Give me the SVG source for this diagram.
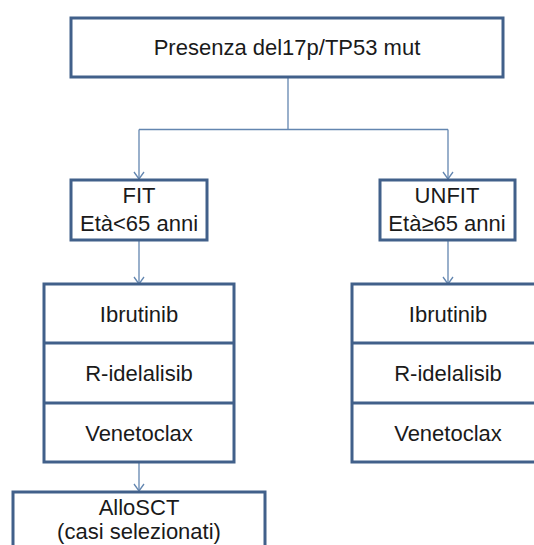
<svg xmlns="http://www.w3.org/2000/svg" width="534" height="545" viewBox="0 0 534 545">
<style>
.box{fill:#fff;stroke:#41608a;stroke-width:3}
.sep{stroke:#41608a;stroke-width:3}
.con{fill:none;stroke:#6386b0;stroke-width:1.3}
text{font-family:"Liberation Sans",Arial,sans-serif;font-size:22px;fill:#1a1a1a;text-anchor:middle}
</style>
<defs>
<marker id="arr" viewBox="0 0 12 12" refX="6" refY="11" markerWidth="12" markerHeight="12" markerUnits="userSpaceOnUse" orient="0">
<polyline points="1,4 6,11 11,4" fill="none" stroke="#6386b0" stroke-width="1.3"/>
</marker>
</defs>
<rect width="534" height="545" fill="#fff"/>
<g id="connectors">
<line class="con" x1="288" y1="77" x2="288" y2="129.5"/>
<line class="con" x1="139" y1="129.5" x2="448" y2="129.5"/>
<line class="con" x1="139" y1="129.5" x2="139" y2="179" marker-end="url(#arr)"/>
<line class="con" x1="448" y1="129.5" x2="448" y2="179" marker-end="url(#arr)"/>
<line class="con" x1="139" y1="241" x2="139" y2="284" marker-end="url(#arr)"/>
<line class="con" x1="448" y1="241" x2="448" y2="284" marker-end="url(#arr)"/>
<line class="con" x1="139" y1="463" x2="139" y2="491" marker-end="url(#arr)"/>
</g>
<g id="top">
<rect class="box" x="71" y="18" width="432" height="59"/>
<text x="287" y="55">Presenza del17p/TP53 mut</text>
</g>
<g id="fit">
<rect class="box" x="71" y="180" width="136" height="60"/>
<text x="139" y="203">FIT</text>
<text x="139" y="231">Età&lt;65 anni</text>
</g>
<g id="unfit">
<rect class="box" x="380" y="180" width="135" height="60"/>
<text x="447" y="203">UNFIT</text>
<text x="447" y="231">Età≥65 anni</text>
</g>
<g id="fit-therapies">
<rect class="box" x="44" y="284" width="190" height="178"/>
<line class="sep" x1="44" y1="343" x2="234" y2="343"/>
<line class="sep" x1="44" y1="403" x2="234" y2="403"/>
<text x="139" y="322">Ibrutinib</text>
<text x="139" y="381">R-idelalisib</text>
<text x="139" y="441">Venetoclax</text>
</g>
<g id="unfit-therapies">
<rect class="box" x="352" y="284" width="192" height="178"/>
<line class="sep" x1="352" y1="343" x2="544" y2="343"/>
<line class="sep" x1="352" y1="403" x2="544" y2="403"/>
<text x="448" y="322">Ibrutinib</text>
<text x="448" y="381">R-idelalisib</text>
<text x="448" y="441">Venetoclax</text>
</g>
<g id="allosct">
<rect class="box" x="13" y="492" width="252" height="70"/>
<text x="139" y="515">AlloSCT</text>
<text x="139" y="539">(casi selezionati)</text>
</g>
</svg>
